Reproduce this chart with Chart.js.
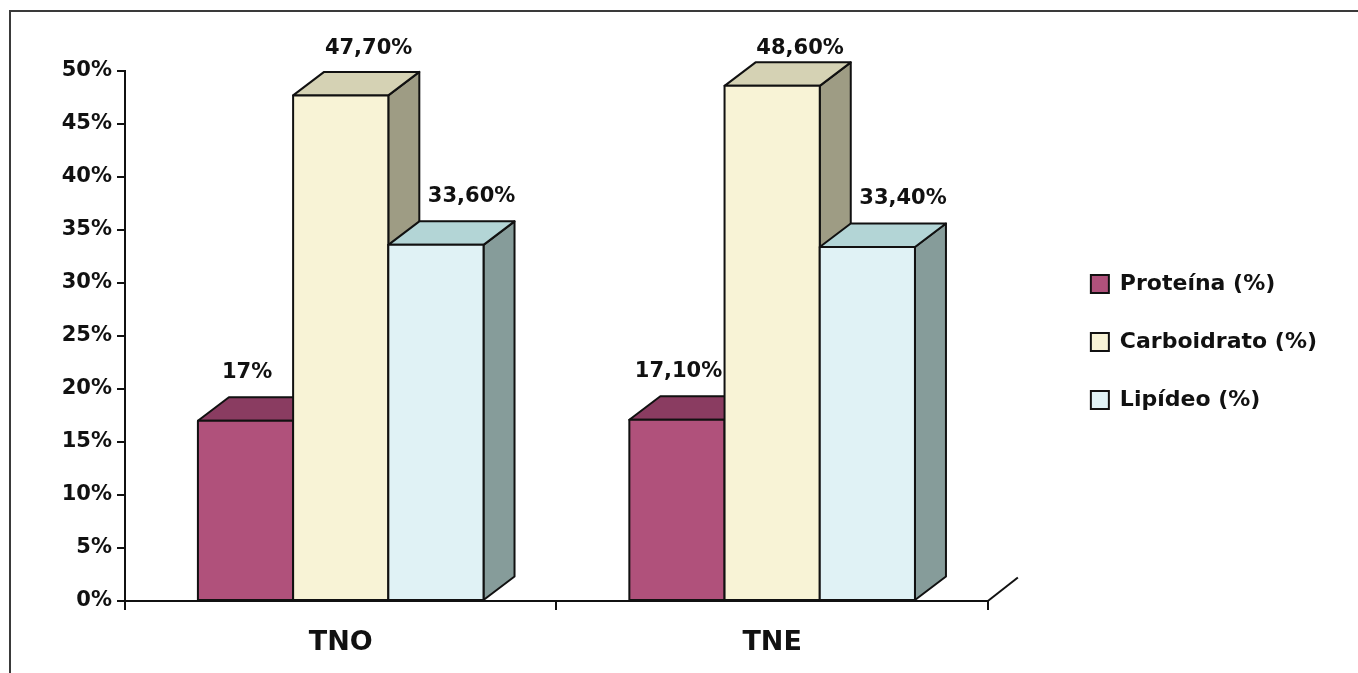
<!DOCTYPE html>
<html>
<head>
<meta charset="utf-8">
<script src="https://cdn.jsdelivr.net/npm/chart.js@4.4.1/dist/chart.umd.min.js"></script>
<style>
html,body{margin:0;padding:0;background:#fff;overflow:hidden}
canvas{display:block}
</style>
</head>
<body>
<canvas id="c" width="1358" height="673"></canvas>
<script>
// ---- data ----
const categories = ['TNO', 'TNE'];
const seriesNames = ['Proteína (%)', 'Carboidrato (%)', 'Lipídeo (%)'];
const proteina = [17, 17.1];
const carboidrato = [47.7, 48.6];
const lipideo = [33.6, 33.4];
const proteinaLabels = ['17%', '17,10%'];
const carboidratoLabels = ['47,70%', '48,60%'];
const lipideoLabels = ['33,60%', '33,40%'];
const yTickLabels = ['0%', '5%', '10%', '15%', '20%', '25%', '30%', '35%', '40%', '45%', '50%'];

// ---- styles ----
const FONT = 'DejaVu Sans';
const TEXT = '#111';
const frontColors = ['#B0517B', '#F8F3D6', '#E0F2F5'];
const topColors = ['#8A3C61', '#D5D2B4', '#B3D5D6'];
const sideColors = ['#763250', '#9E9C84', '#869C9A'];
const DX = 31, DY = 23.5;
const labelShift = [0.05, 0.9, 1.15];
const valueLabels = [proteinaLabels, carboidratoLabels, lipideoLabels];

const bars3d = {
  id: 'bars3d',
  afterLayout(chart) {
    if (chart.legend) { chart.legend.top -= 30; chart.legend.bottom -= 30; }
  },
  beforeDraw(chart) {
    const ctx = chart.ctx;
    ctx.save();
    ctx.strokeStyle = '#3a3a3a';
    ctx.lineWidth = 2;
    ctx.beginPath();
    ctx.moveTo(10, 680);
    ctx.lineTo(10, 11);
    ctx.lineTo(1360, 11);
    ctx.stroke();
    ctx.restore();
  },
  beforeDatasetsDraw(chart) {
    const ctx = chart.ctx;
    const xs = chart.scales.x, ys = chart.scales.y;
    ctx.save();
    ctx.strokeStyle = '#111';
    ctx.lineWidth = 2;
    ctx.beginPath();
    ctx.moveTo(xs.right, ys.bottom);
    ctx.lineTo(xs.right + DX - 1, ys.bottom - DY);
    ctx.stroke();
    ctx.lineJoin = 'round';
    const n = chart.data.labels.length;
    for (let i = 0; i < n; i++) {
      for (let d = 0; d < chart.data.datasets.length; d++) {
        const bar = chart.getDatasetMeta(d).data[i];
        const l = bar.x - bar.width / 2, r = bar.x + bar.width / 2;
        const t = bar.y, b = bar.base;
        ctx.strokeStyle = '#111';
        ctx.lineWidth = 2;
        ctx.beginPath();
        ctx.moveTo(r, t); ctx.lineTo(r + DX, t - DY); ctx.lineTo(r + DX, b - DY); ctx.lineTo(r, b); ctx.closePath();
        ctx.fillStyle = sideColors[d]; ctx.fill(); ctx.stroke();
        ctx.beginPath();
        ctx.moveTo(l, t); ctx.lineTo(l + DX, t - DY); ctx.lineTo(r + DX, t - DY); ctx.lineTo(r, t); ctx.closePath();
        ctx.fillStyle = topColors[d]; ctx.fill(); ctx.stroke();
        ctx.beginPath();
        ctx.rect(l, t, r - l, b - t);
        ctx.fillStyle = frontColors[d]; ctx.fill(); ctx.stroke();
      }
    }
    ctx.fillStyle = TEXT;
    ctx.font = 'bold 21px "' + FONT + '"';
    ctx.textAlign = 'center';
    ctx.textBaseline = 'middle';
    for (let i = 0; i < n; i++) {
      for (let d = 0; d < chart.data.datasets.length; d++) {
        const bar = chart.getDatasetMeta(d).data[i];
        const x = bar.x + labelShift[d] * DX;
        const y = Math.max(bar.y - DY - 25, chart.chartArea.top - 22);
        ctx.fillText(valueLabels[d][i], x, y);
      }
    }
    ctx.restore();
    return false;
  }
};

new Chart(document.getElementById('c'), {
  type: 'bar',
  data: {
    labels: categories,
    datasets: [
      { label: seriesNames[0], data: proteina, backgroundColor: frontColors[0], borderColor: '#111', borderWidth: 2 },
      { label: seriesNames[1], data: carboidrato, backgroundColor: frontColors[1], borderColor: '#111', borderWidth: 2 },
      { label: seriesNames[2], data: lipideo, backgroundColor: frontColors[2], borderColor: '#111', borderWidth: 2 }
    ]
  },
  options: {
    responsive: false,
    animation: false,
    devicePixelRatio: 1,
    categoryPercentage: 0.662,
    barPercentage: 1,
    layout: { padding: { left: 0, top: 71, right: 31, bottom: 0 } },
    scales: {
      x: {
        offset: true,
        grid: { offset: true, drawOnChartArea: false, color: '#111', lineWidth: 2, tickLength: 9 },
        border: { display: true, color: '#111', width: 2 },
        ticks: { color: TEXT, padding: 17, font: { family: FONT, weight: 'bold', size: 27 } },
        afterFit(s) { s.height = 72; }
      },
      y: {
        min: 0, max: 50,
        ticks: {
          stepSize: 5, color: TEXT, padding: 5,
          font: { family: FONT, weight: 'bold', size: 21 },
          callback: (v, i) => yTickLabels[i]
        },
        grid: { drawOnChartArea: false, color: '#111', lineWidth: 2, tickLength: 8 },
        border: { display: true, color: '#111', width: 2 },
        afterFit(s) { s.width = 125; }
      },
      spacer: {
        type: 'linear', position: 'right', display: true,
        grid: { display: false }, border: { display: false }, ticks: { display: false },
        afterFit(s) { s.width = 67; }
      }
    },
    plugins: {
      legend: {
        position: 'right',
        align: 'center',
        maxWidth: 400,
        labels: {
          boxWidth: 18, boxHeight: 18, padding: 36, color: TEXT,
          font: { family: FONT, weight: 'bold', size: 22 }
        }
      },
      tooltip: { enabled: false }
    }
  },
  plugins: [bars3d]
});
</script>
</body>
</html>
